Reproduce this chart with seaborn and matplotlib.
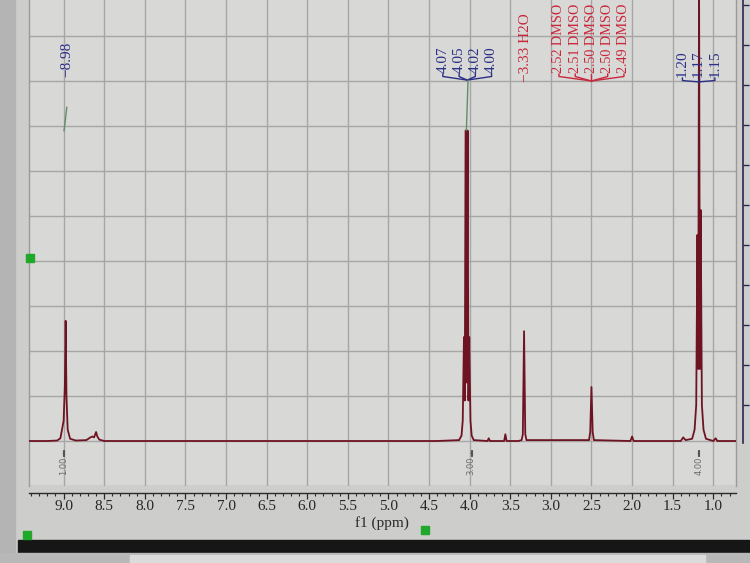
import numpy as np
import pandas as pd
import matplotlib.pyplot as plt
import seaborn as sns
from matplotlib.patches import Rectangle

# 1H NMR trace: ppm and height in grid units above baseline
trace_ppm = [9.43, 9.20, 9.08, 9.04, 9.02, 9.00, 8.985, 8.975, 8.965, 8.95, 8.92, 8.85,
             8.72, 8.67, 8.645, 8.625, 8.60, 8.585, 8.56, 8.50, 7.00, 5.00, 4.40,
             4.13, 4.10, 4.085, 4.07, 4.06, 4.05, 4.037, 4.025, 4.015, 4.005, 3.99, 3.975, 3.95,
             3.78, 3.765, 3.75, 3.60, 3.575, 3.56, 3.545, 3.40,
             3.36, 3.345, 3.33, 3.315, 3.30,
             2.53, 2.515, 2.50, 2.485, 2.47,
             2.02, 2.00, 1.98, 1.45, 1.40, 1.37, 1.34,
             1.26, 1.23, 1.21, 1.195, 1.185, 1.175, 1.165, 1.155, 1.14, 1.12, 1.09,
             1.00, 0.97, 0.95, 0.93, 0.72]
trace_int = [0.0, 0.0, 0.01, 0.06, 0.25, 0.45, 1.2, 2.67, 1.0, 0.25, 0.05, 0.01,
             0.02, 0.08, 0.1, 0.08, 0.2, 0.1, 0.03, 0.0, 0.0, 0.0, 0.0,
             0.02, 0.12, 0.45, 2.31, 0.9, 6.9, 1.3, 6.9, 0.9, 2.31, 0.45, 0.12, 0.02,
             0.0, 0.06, 0.0, 0.0, 0.0, 0.15, 0.0, 0.0,
             0.02, 0.15, 2.44, 0.15, 0.02,
             0.02, 0.2, 1.2, 0.2, 0.02,
             0.0, 0.1, 0.0, 0.0, 0.0, 0.08, 0.02,
             0.05, 0.25, 0.8, 4.58, 1.6, 10.5, 1.6, 5.13, 0.8, 0.25, 0.05,
             0.0, 0.06, 0.0, 0.0, 0.0]

# peak labels
single_ppm = [8.96]
single_txt = ['\u22128.98']
quartet_txt = ['4.07', '4.05', '4.02', '4.00']
triplet_txt = ['1.20', '1.17', '1.15']
water_ppm = 3.31
water_txt = '\u22123.33 H2O'
dmso_txt = ['2.52 DMSO', '2.51 DMSO', '2.50 DMSO', '2.50 DMSO', '2.49 DMSO']

# integrals under the baseline
integral_ppm = [9.0, 3.98, 1.18]
integral_txt = ['1.00', '3.00', '4.00']

xticks = np.arange(1.0, 9.01, 0.5)

sns.set_theme(style='whitegrid')
plt.rcParams['font.family'] = ['Liberation Serif', 'DejaVu Serif']

fig = plt.figure(figsize=(7.5, 5.63), dpi=100, facecolor='#cdcdcb')
W, H = 750, 563
ax = fig.add_axes([28.7 / W, (H - 486) / H, (736 - 28.7) / W, 486 / H])
ax.set_facecolor('#d8d8d6')

df = pd.DataFrame({'ppm': trace_ppm, 'intensity': trace_int})
sns.lineplot(data=df, x='ppm', y='intensity', estimator=None, sort=False,
             color='#6e1322', lw=1.3, ax=ax, zorder=3)

# dark intensity axis on the far right (its labels run off the screen)
ax2 = ax.twinx()
ax2.grid(False)
ax2.set_ylim(-2.025, 10.125)
ax2.set_yticks(range(0, 11))
ax2.tick_params(axis='y', right=True, direction='out', length=4, width=1.0,
                color='#2e2550', labelright=False)
for side in ['left', 'top', 'bottom']:
    ax2.spines[side].set_visible(False)
ax2.spines['right'].set_position(('outward', 5))
ax2.spines['right'].set_color('#2e2550')
ax2.spines['right'].set_linewidth(1.2)
ax2.spines['right'].set_bounds(-0.95, 10.125)

ax.set_xlim(9.43, 0.72)
ax.set_ylim(-1, 9.8)
ax.set_xticks(xticks)
ax.set_xticks(np.arange(0.8, 9.41, 0.1), minor=True)
ax.set_xticklabels([f'{t:.1f}' for t in xticks], fontsize=10.5, color='#2a2a2a')
ax.set_yticks(range(-1, 10))
ax.tick_params(axis='y', which='both', left=False, right=False,
               labelleft=False, labelright=False)
ax.tick_params(axis='x', which='major', bottom=True, direction='out', length=4,
               width=0.9, color='#2a2a2a', pad=1)
ax.tick_params(axis='x', which='minor', bottom=True, direction='out', length=2,
               width=0.8, color='#2a2a2a')
ax.grid(True, which='major', color='#a6a6a6', lw=1.0)
ax.set_xlabel('f1 (ppm)', fontsize=11, color='#2a2a2a', labelpad=2)
ax.set_ylabel('')

for side in ['left', 'right']:
    ax.spines[side].set_color('#9a9a9a')
    ax.spines[side].set_linewidth(1.0)
ax.spines['top'].set_visible(False)
ax.spines['bottom'].set_position(('outward', 5))
ax.spines['bottom'].set_color('#2a2a2a')
ax.spines['bottom'].set_linewidth(1.0)

blue = '#2b2f86'
red = '#c8283c'
label_font = dict(rotation=90, ha='center', va='bottom')


def multiplet(texts, center, text_y, join_y, color, size=11, step=0.2):
    n = len(texts)
    for i, t in enumerate(texts):
        x = center + step * ((n - 1) / 2 - i)
        ax.text(x, text_y, t, color=color, fontsize=size, **label_font)
        ax.plot([x, x, center], [text_y - 0.02, text_y - 0.08, join_y],
                color=color, lw=1.0, zorder=4)


for p, t in zip(single_ppm, single_txt):
    ax.text(p, 8.08, t, color=blue, fontsize=11, **label_font)
multiplet(quartet_txt, 4.03, 8.18, 8.02, blue)
multiplet(triplet_txt, 1.18, 8.09, 7.98, blue)
multiplet(dmso_txt, 2.50, 8.18, 8.0, red, size=10.2)
ax.text(water_ppm, 7.98, water_txt, color=red, fontsize=11, **label_font)

# green integral traces
ax.plot([4.02, 4.04], [8.02, 6.9], color='#5f8f66', lw=1.0, zorder=4)
ax.plot([8.96, 8.995], [7.42, 6.89], color='#5f8f66', lw=1.0, zorder=4)

for p, t in zip(integral_ppm, integral_txt):
    ax.annotate('', xy=(p - 0.04, -0.27), xytext=(p + 0.04, -0.27),
                arrowprops=dict(arrowstyle='|-|, widthA=0.2, widthB=0.2',
                                color='#555555', lw=0.8))
    ax.text(p, -0.34, t, rotation=90, ha='center', va='top', fontsize=6,
            color='#6a6a6a', family=['DejaVu Sans'])

# screen furniture around the plot
fig.patches.append(Rectangle((0, 0), 15 / W, 1, transform=fig.transFigure,
                             color='#b4b4b4', zorder=-1))
fig.patches.append(Rectangle((18 / W, (H - 553) / H), 1, 13 / H, transform=fig.transFigure,
                             color='#161616', zorder=-1))
fig.patches.append(Rectangle((0, 0), 1, (H - 553) / H, transform=fig.transFigure,
                             color='#b8b8b8', zorder=-1))
fig.patches.append(Rectangle((130 / W, 0), 575 / W, (H - 555) / H, transform=fig.transFigure,
                             color='#dcdcdc', zorder=-1))
for gx, gy in [(30, 258), (27, 535), (425, 530)]:
    fig.patches.append(Rectangle(((gx - 4) / W, (H - gy - 4) / H), 8 / W, 8 / H,
                                 transform=fig.transFigure, color='#1fa82a', zorder=5))

fig.savefig('out.png', dpi=100, facecolor=fig.get_facecolor())
